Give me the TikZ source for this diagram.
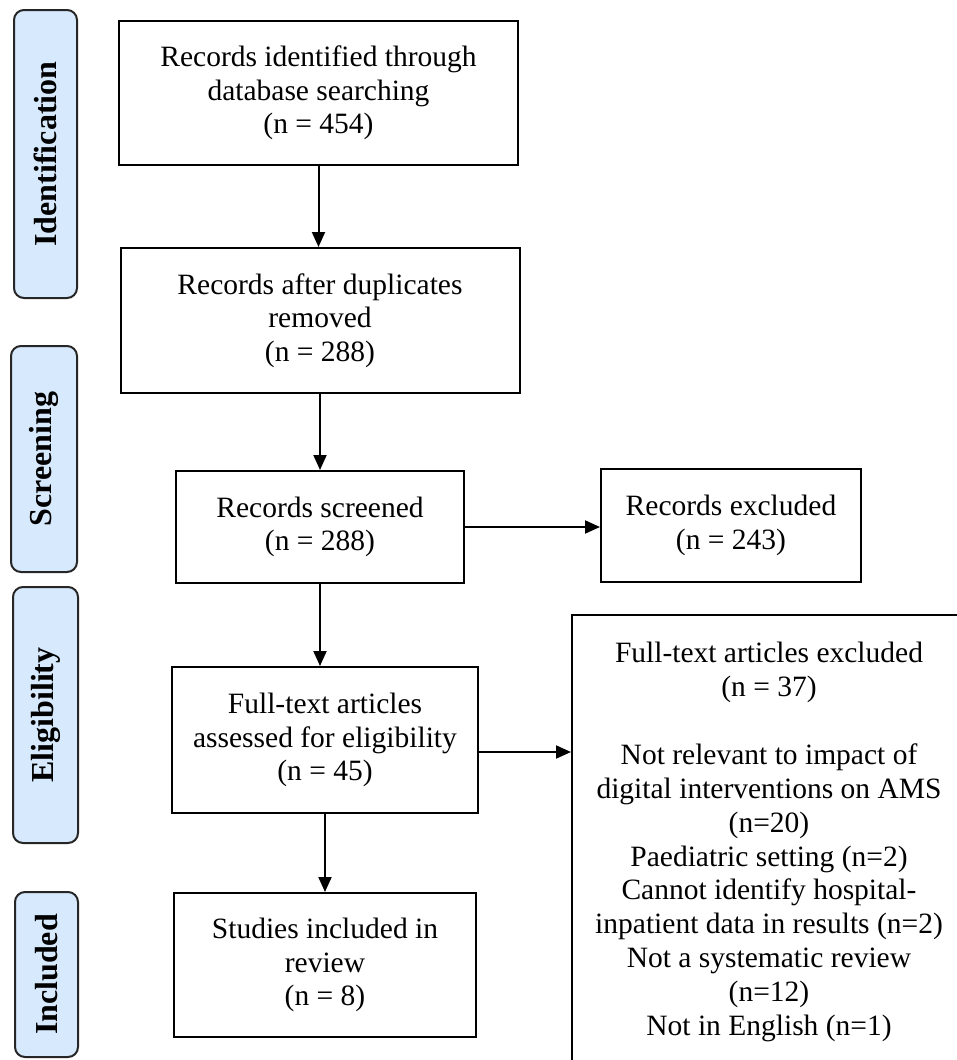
\documentclass[tikz,border=0pt]{standalone}
\usepackage{fontspec}
\setmainfont{Liberation Serif}
\usetikzlibrary{arrows.meta}

\definecolor{stagefill}{RGB}{215,233,252}

\tikzset{
    box/.style={draw=black, line width=2pt, align=center, inner sep=0pt,
        font=\fontsize{29.5}{33.5}\selectfont},
    stage/.style={draw=black!85, fill=stagefill, line width=2pt, rounded corners=10pt,
        rotate=90, inner sep=0pt, font=\bfseries\fontsize{32}{36}\selectfont},
    flow/.style={line width=2pt, -{Triangle[length=15pt,width=13pt]}}
}

\begin{document}
\begin{tikzpicture}[x=1pt, y=-1pt]

    % Picture frame
    \useasboundingbox (0,0) rectangle (957,1060);
    \clip (0,0) rectangle (957,1060);

    % Stage labels on the left
    \node[stage, minimum width=288pt, minimum height=63pt] (ident) at (45.5,154) {Identification};
    \node[stage, minimum width=226pt, minimum height=66pt] (screen) at (44,459) {Screening};
    \node[stage, minimum width=256pt, minimum height=65pt] (elig) at (45.5,715) {Eligibility};
    \node[stage, minimum width=165pt, minimum height=63pt] (incl) at (46.5,974.5) {Included};

    % Main column of boxes
    \node[box, minimum width=399pt, minimum height=144pt] (found) at (318.5,93)
        {Records identified through\\database searching\\(n = 454)};
    \node[box, minimum width=399pt, minimum height=145pt] (dedup) at (320,320.5)
        {Records after duplicates\\removed\\(n = 288)};
    \node[box, minimum width=288pt, minimum height=112pt] (screened) at (320,527)
        {Records screened\\(n = 288)};
    \node[box, minimum width=306pt, minimum height=146pt] (fulltext) at (325,740)
        {Full-text articles\\assessed for eligibility\\(n = 45)};
    \node[box, minimum width=302pt, minimum height=144pt] (studies) at (325,965)
        {Studies included in\\review\\(n = 8)};

    % Boxes on the right
    \node[box, minimum width=260pt, minimum height=113pt] (recexcl) at (731,525.5)
        {Records excluded\\(n = 243)};
    \node[box, minimum width=396pt, minimum height=500pt, anchor=north west] (ftexcl) at (571,614) {};
    \node[align=center, inner sep=0pt, font=\fontsize{29.5}{33.9}\selectfont] (ftreasons) at (769,842)
        {Full-text articles excluded\\(n = 37)\\[33.9pt]Not relevant to impact of\\digital interventions on AMS\\(n=20)\\Paediatric setting (n=2)\\Cannot identify hospital-\\inpatient data in results (n=2)\\Not a systematic review\\(n=12)\\Not in English (n=1)};

    % Arrows down the main column
    \draw[flow] (found.south) -- (found.south |- dedup.north);
    \draw[flow] (dedup.south) -- (dedup.south |- screened.north);
    \draw[flow] (screened.south) -- (screened.south |- fulltext.north);
    \draw[flow] (fulltext.south) -- (fulltext.south |- studies.north);

    % Arrows to the exclusion boxes
    \draw[flow] (screened.east) -- (screened.east -| recexcl.west);
    \draw[flow] ([yshift=-12pt]fulltext.east) -- ([yshift=-12pt]fulltext.east -| ftexcl.west);

\end{tikzpicture}
\end{document}
